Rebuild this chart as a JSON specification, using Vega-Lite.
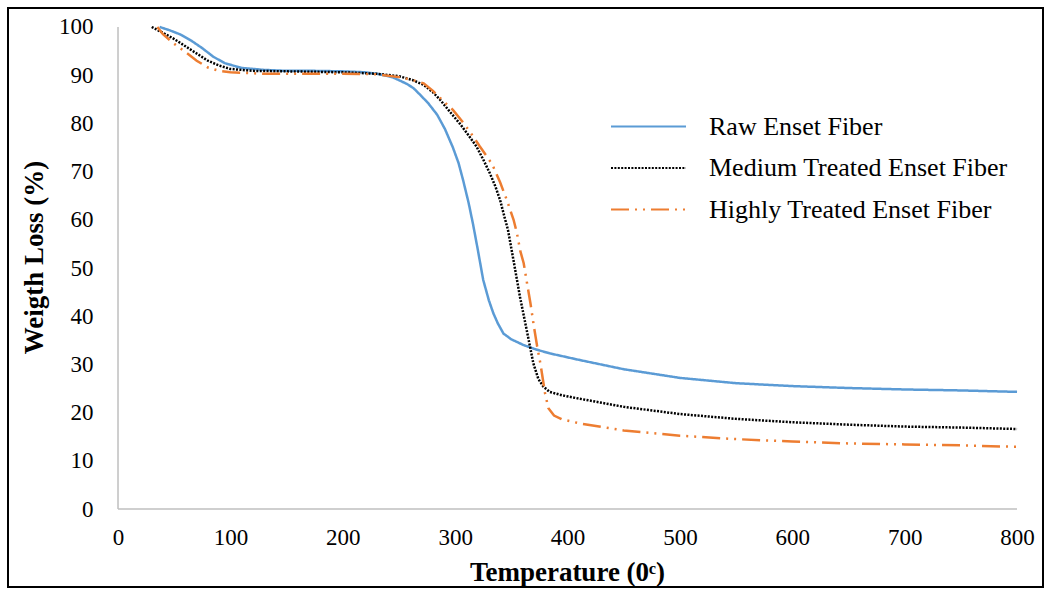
{
  "$schema": "https://vega.github.io/schema/vega-lite/v6.json",
  "width": 1035,
  "height": 579,
  "autosize": {"type": "none"},
  "padding": {"left": 8, "top": 8, "right": 1, "bottom": 2},
  "background": "white",
  "config": {
    "view": {"stroke": "black", "strokeWidth": 2},
    "font": "Liberation Serif"
  },
  "datasets": {
    "axes": [
      {"x": 0, "x2": 0, "y": 0, "y2": 100},
      {"x": 0, "x2": 800, "y": 0, "y2": 0}
    ],
    "tga": [
      {"series": "Raw Enset Fiber", "T": 37, "W": 100},
      {"series": "Raw Enset Fiber", "T": 45, "W": 99.4},
      {"series": "Raw Enset Fiber", "T": 55, "W": 98.5},
      {"series": "Raw Enset Fiber", "T": 65, "W": 97.2},
      {"series": "Raw Enset Fiber", "T": 75, "W": 95.6},
      {"series": "Raw Enset Fiber", "T": 85, "W": 93.8},
      {"series": "Raw Enset Fiber", "T": 95, "W": 92.5},
      {"series": "Raw Enset Fiber", "T": 110, "W": 91.5},
      {"series": "Raw Enset Fiber", "T": 130, "W": 91.1},
      {"series": "Raw Enset Fiber", "T": 150, "W": 90.9},
      {"series": "Raw Enset Fiber", "T": 175, "W": 90.9},
      {"series": "Raw Enset Fiber", "T": 200, "W": 90.8},
      {"series": "Raw Enset Fiber", "T": 220, "W": 90.6},
      {"series": "Raw Enset Fiber", "T": 233, "W": 90.2},
      {"series": "Raw Enset Fiber", "T": 245, "W": 89.5},
      {"series": "Raw Enset Fiber", "T": 257, "W": 88.2},
      {"series": "Raw Enset Fiber", "T": 263, "W": 87.3},
      {"series": "Raw Enset Fiber", "T": 269, "W": 85.9},
      {"series": "Raw Enset Fiber", "T": 276, "W": 84.2},
      {"series": "Raw Enset Fiber", "T": 284, "W": 81.8},
      {"series": "Raw Enset Fiber", "T": 291, "W": 78.8},
      {"series": "Raw Enset Fiber", "T": 298, "W": 75},
      {"series": "Raw Enset Fiber", "T": 303, "W": 71.8},
      {"series": "Raw Enset Fiber", "T": 307, "W": 68.3},
      {"series": "Raw Enset Fiber", "T": 312, "W": 63.5},
      {"series": "Raw Enset Fiber", "T": 316, "W": 59},
      {"series": "Raw Enset Fiber", "T": 320, "W": 54},
      {"series": "Raw Enset Fiber", "T": 325, "W": 47.5},
      {"series": "Raw Enset Fiber", "T": 330, "W": 43.3},
      {"series": "Raw Enset Fiber", "T": 334, "W": 40.6},
      {"series": "Raw Enset Fiber", "T": 338, "W": 38.5},
      {"series": "Raw Enset Fiber", "T": 343, "W": 36.4},
      {"series": "Raw Enset Fiber", "T": 350, "W": 35.2},
      {"series": "Raw Enset Fiber", "T": 361, "W": 34},
      {"series": "Raw Enset Fiber", "T": 372, "W": 33.1},
      {"series": "Raw Enset Fiber", "T": 384, "W": 32.3},
      {"series": "Raw Enset Fiber", "T": 411, "W": 30.9},
      {"series": "Raw Enset Fiber", "T": 450, "W": 29},
      {"series": "Raw Enset Fiber", "T": 500, "W": 27.2},
      {"series": "Raw Enset Fiber", "T": 550, "W": 26.1},
      {"series": "Raw Enset Fiber", "T": 600, "W": 25.5},
      {"series": "Raw Enset Fiber", "T": 650, "W": 25.1},
      {"series": "Raw Enset Fiber", "T": 700, "W": 24.8},
      {"series": "Raw Enset Fiber", "T": 750, "W": 24.6},
      {"series": "Raw Enset Fiber", "T": 800, "W": 24.3},
      {"series": "Medium Treated Enset Fiber", "T": 30, "W": 100},
      {"series": "Medium Treated Enset Fiber", "T": 40, "W": 98.8},
      {"series": "Medium Treated Enset Fiber", "T": 50, "W": 97.5},
      {"series": "Medium Treated Enset Fiber", "T": 60, "W": 96},
      {"series": "Medium Treated Enset Fiber", "T": 70, "W": 94.5},
      {"series": "Medium Treated Enset Fiber", "T": 80, "W": 93},
      {"series": "Medium Treated Enset Fiber", "T": 90, "W": 92},
      {"series": "Medium Treated Enset Fiber", "T": 100, "W": 91.3},
      {"series": "Medium Treated Enset Fiber", "T": 120, "W": 90.9},
      {"series": "Medium Treated Enset Fiber", "T": 150, "W": 90.8},
      {"series": "Medium Treated Enset Fiber", "T": 200, "W": 90.6},
      {"series": "Medium Treated Enset Fiber", "T": 230, "W": 90.3},
      {"series": "Medium Treated Enset Fiber", "T": 250, "W": 89.8},
      {"series": "Medium Treated Enset Fiber", "T": 262, "W": 89},
      {"series": "Medium Treated Enset Fiber", "T": 272, "W": 88},
      {"series": "Medium Treated Enset Fiber", "T": 280, "W": 86.5},
      {"series": "Medium Treated Enset Fiber", "T": 287, "W": 84.8},
      {"series": "Medium Treated Enset Fiber", "T": 295, "W": 82.5},
      {"series": "Medium Treated Enset Fiber", "T": 304, "W": 80},
      {"series": "Medium Treated Enset Fiber", "T": 312, "W": 77.5},
      {"series": "Medium Treated Enset Fiber", "T": 319, "W": 75.2},
      {"series": "Medium Treated Enset Fiber", "T": 325, "W": 72.5},
      {"series": "Medium Treated Enset Fiber", "T": 331, "W": 69.6},
      {"series": "Medium Treated Enset Fiber", "T": 336, "W": 66.8},
      {"series": "Medium Treated Enset Fiber", "T": 340, "W": 64.1},
      {"series": "Medium Treated Enset Fiber", "T": 344, "W": 60.5},
      {"series": "Medium Treated Enset Fiber", "T": 347, "W": 57.9},
      {"series": "Medium Treated Enset Fiber", "T": 352, "W": 51.5},
      {"series": "Medium Treated Enset Fiber", "T": 357.7, "W": 44},
      {"series": "Medium Treated Enset Fiber", "T": 363.7, "W": 37.1},
      {"series": "Medium Treated Enset Fiber", "T": 369.6, "W": 30.2},
      {"series": "Medium Treated Enset Fiber", "T": 374, "W": 27},
      {"series": "Medium Treated Enset Fiber", "T": 378.5, "W": 25.4},
      {"series": "Medium Treated Enset Fiber", "T": 384, "W": 24.3},
      {"series": "Medium Treated Enset Fiber", "T": 395, "W": 23.6},
      {"series": "Medium Treated Enset Fiber", "T": 408, "W": 23},
      {"series": "Medium Treated Enset Fiber", "T": 450, "W": 21.2},
      {"series": "Medium Treated Enset Fiber", "T": 500, "W": 19.7},
      {"series": "Medium Treated Enset Fiber", "T": 550, "W": 18.7},
      {"series": "Medium Treated Enset Fiber", "T": 600, "W": 18},
      {"series": "Medium Treated Enset Fiber", "T": 650, "W": 17.5},
      {"series": "Medium Treated Enset Fiber", "T": 700, "W": 17.1},
      {"series": "Medium Treated Enset Fiber", "T": 750, "W": 16.9},
      {"series": "Medium Treated Enset Fiber", "T": 800, "W": 16.6},
      {"series": "Highly Treated Enset Fiber", "T": 35, "W": 100},
      {"series": "Highly Treated Enset Fiber", "T": 40, "W": 98.5},
      {"series": "Highly Treated Enset Fiber", "T": 50, "W": 96.5},
      {"series": "Highly Treated Enset Fiber", "T": 60, "W": 94.8},
      {"series": "Highly Treated Enset Fiber", "T": 70, "W": 93},
      {"series": "Highly Treated Enset Fiber", "T": 80, "W": 91.6},
      {"series": "Highly Treated Enset Fiber", "T": 90, "W": 90.9},
      {"series": "Highly Treated Enset Fiber", "T": 100, "W": 90.6},
      {"series": "Highly Treated Enset Fiber", "T": 130, "W": 90.3},
      {"series": "Highly Treated Enset Fiber", "T": 160, "W": 90.3},
      {"series": "Highly Treated Enset Fiber", "T": 200, "W": 90.3},
      {"series": "Highly Treated Enset Fiber", "T": 230, "W": 90.2},
      {"series": "Highly Treated Enset Fiber", "T": 250, "W": 89.6},
      {"series": "Highly Treated Enset Fiber", "T": 262, "W": 89},
      {"series": "Highly Treated Enset Fiber", "T": 272, "W": 88.3},
      {"series": "Highly Treated Enset Fiber", "T": 280, "W": 86.8},
      {"series": "Highly Treated Enset Fiber", "T": 290, "W": 84.5},
      {"series": "Highly Treated Enset Fiber", "T": 298, "W": 82.8},
      {"series": "Highly Treated Enset Fiber", "T": 306, "W": 80.5},
      {"series": "Highly Treated Enset Fiber", "T": 314, "W": 78},
      {"series": "Highly Treated Enset Fiber", "T": 322, "W": 75.2},
      {"series": "Highly Treated Enset Fiber", "T": 328, "W": 73.2},
      {"series": "Highly Treated Enset Fiber", "T": 333, "W": 71.5},
      {"series": "Highly Treated Enset Fiber", "T": 340, "W": 67.8},
      {"series": "Highly Treated Enset Fiber", "T": 346, "W": 64.1},
      {"series": "Highly Treated Enset Fiber", "T": 352, "W": 60},
      {"series": "Highly Treated Enset Fiber", "T": 355, "W": 57.2},
      {"series": "Highly Treated Enset Fiber", "T": 358, "W": 53.5},
      {"series": "Highly Treated Enset Fiber", "T": 361, "W": 51},
      {"series": "Highly Treated Enset Fiber", "T": 364, "W": 46.8},
      {"series": "Highly Treated Enset Fiber", "T": 367, "W": 42.7},
      {"series": "Highly Treated Enset Fiber", "T": 370, "W": 38},
      {"series": "Highly Treated Enset Fiber", "T": 373, "W": 33.7},
      {"series": "Highly Treated Enset Fiber", "T": 376, "W": 30},
      {"series": "Highly Treated Enset Fiber", "T": 380, "W": 24},
      {"series": "Highly Treated Enset Fiber", "T": 383, "W": 20.9},
      {"series": "Highly Treated Enset Fiber", "T": 388, "W": 19.4},
      {"series": "Highly Treated Enset Fiber", "T": 395, "W": 18.6},
      {"series": "Highly Treated Enset Fiber", "T": 412, "W": 17.7},
      {"series": "Highly Treated Enset Fiber", "T": 450, "W": 16.3},
      {"series": "Highly Treated Enset Fiber", "T": 500, "W": 15.2},
      {"series": "Highly Treated Enset Fiber", "T": 550, "W": 14.5},
      {"series": "Highly Treated Enset Fiber", "T": 600, "W": 14},
      {"series": "Highly Treated Enset Fiber", "T": 650, "W": 13.6},
      {"series": "Highly Treated Enset Fiber", "T": 700, "W": 13.4},
      {"series": "Highly Treated Enset Fiber", "T": 750, "W": 13.2},
      {"series": "Highly Treated Enset Fiber", "T": 800, "W": 12.9}
    ]
  },
  "layer": [
    {
      "data": {"name": "axes"},
      "mark": {"type": "rule", "color": "#BFBFBF", "strokeWidth": 1.5},
      "encoding": {
        "x": {
          "field": "x", "type": "quantitative",
          "scale": {"domain": [-97.89, 823.1], "nice": false, "zero": false},
          "axis": {
            "values": [0, 100, 200, 300, 400, 500, 600, 700, 800],
            "domain": false, "ticks": false, "tickSize": 0, "grid": false,
            "offset": -50, "labelPadding": 0, "labelBaseline": "middle",
            "labelFlush": false, "labelOverlap": false,
            "labelFont": "Liberation Serif", "labelFontSize": 23, "labelColor": "#000000",
            "title": "Temperature  (0ᶜ)",
            "titleFont": "Liberation Serif", "titleFontSize": 27, "titleFontWeight": "bold", "titleColor": "#000000",
            "titleX": 559, "titleY": 35, "titleBaseline": "middle", "titleAnchor": "middle"
          }
        },
        "x2": {"field": "x2"},
        "y": {
          "field": "y", "type": "quantitative",
          "scale": {"domain": [-16.18, 103.94], "nice": false, "zero": false},
          "axis": {
            "values": [0, 10, 20, 30, 40, 50, 60, 70, 80, 90, 100],
            "domain": false, "ticks": false, "tickSize": 0, "grid": false,
            "offset": -85, "labelPadding": 0,
            "labelFlush": false, "labelOverlap": false,
            "labelFont": "Liberation Serif", "labelFontSize": 23, "labelColor": "#000000",
            "title": "Weigth Loss  (%)",
            "titleFont": "Liberation Serif", "titleFontSize": 27, "titleFontWeight": "bold", "titleColor": "#000000",
            "titleX": -59, "titleY": 249, "titleBaseline": "middle", "titleAnchor": "middle", "titleAngle": -90
          }
        },
        "y2": {"field": "y2"}
      }
    },
    {
      "data": {"name": "tga"},
      "mark": {"type": "line", "strokeWidth": 2.5},
      "encoding": {
        "x": {"field": "T", "type": "quantitative"},
        "y": {"field": "W", "type": "quantitative"},
        "color": {
          "field": "series", "type": "nominal",
          "scale": {
            "domain": ["Raw Enset Fiber", "Medium Treated Enset Fiber", "Highly Treated Enset Fiber"],
            "range": ["#5B9BD5", "#000000", "#ED7D31"]
          },
          "legend": {
            "orient": "none", "legendX": 627, "legendY": 105, "title": null, "padding": 0,
            "symbolType": "M-3,0H3", "symbolSize": 625, "symbolStrokeWidth": 2,
            "labelFont": "Liberation Serif", "labelFontSize": 26, "labelColor": "#000000",
            "labelOffset": 47, "rowPadding": 14.5, "labelLimit": 400
          }
        },
        "strokeDash": {
          "field": "series", "type": "nominal",
          "scale": {
            "domain": ["Raw Enset Fiber", "Medium Treated Enset Fiber", "Highly Treated Enset Fiber"],
            "range": [[1, 0], [2, 1.4], [18, 6, 2, 6, 2, 6]]
          },
          "legend": {
            "orient": "none", "legendX": 627, "legendY": 105, "title": null, "padding": 0,
            "symbolType": "M-3,0H3", "symbolSize": 625, "symbolStrokeWidth": 2,
            "labelFont": "Liberation Serif", "labelFontSize": 26, "labelColor": "#000000",
            "labelOffset": 47, "rowPadding": 14.5, "labelLimit": 400
          }
        }
      }
    }
  ]
}
